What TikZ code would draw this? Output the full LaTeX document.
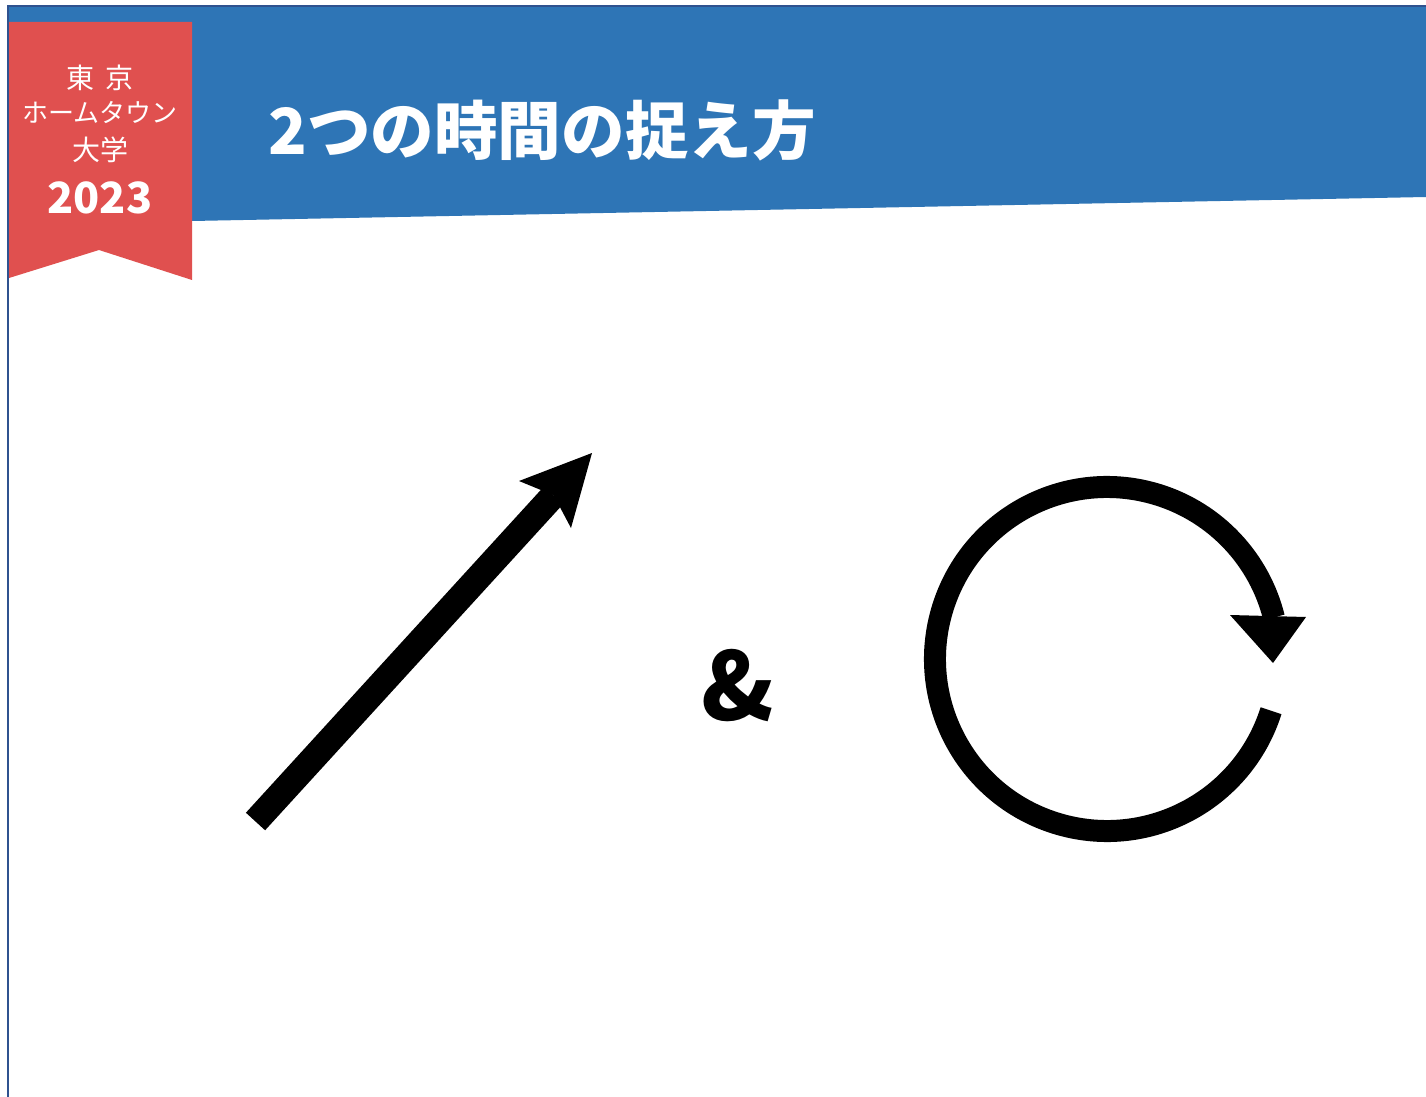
\documentclass[tikz,border=0pt]{standalone}
\usepackage{fontspec}
\newfontfamily\cjk{Noto Sans CJK JP}
\usetikzlibrary{calc}
\definecolor{hdrblue}{HTML}{2E75B6}
\definecolor{frameblue}{HTML}{2F528F}
\definecolor{ribred}{HTML}{E0504F}
\tikzset{
  ribtext/.style={text=white, inner sep=0pt, font=\cjk\fontsize{14pt}{15pt}\selectfont},
  shaft/.style={line width=13pt, black},
  headfill/.style={fill=black, draw=none}
}
\begin{document}
\begin{tikzpicture}[x=0.5pt,y=-0.5pt]
\useasboundingbox (0,0) rectangle (1426,1097);
\fill[white] (0,0) rectangle (1426,1097);
% header band
\fill[hdrblue] (9,7) -- (1426,7) -- (1426,197) -- (192,221) -- (9,221) -- cycle;
% frame
\draw[frameblue, line width=1.1pt] (8,1097) -- (8,6) -- (1426,6);
% ribbon
\fill[ribred] (9,22) -- (192,22) -- (192,280) -- (99,250) -- (9,278) -- cycle;
\node[ribtext] (r1) at (100,78) {東\hspace{0.4em}京};
\node[ribtext, font=\cjk\fontsize{13pt}{14pt}\selectfont] (r2) at (100,112) {ホームタウン};
\node[ribtext] (r3) at (100,150) {大学};
\node[text=white, inner sep=0pt, font=\cjk\bfseries\fontsize{21.5pt}{24pt}\selectfont] (r4) at (100,198) {2023};
% title
\node[text=white, inner sep=0pt, anchor=west, font=\cjk\bfseries\fontsize{31.8pt}{34pt}\selectfont] (title) at (268,130) {2つの時間の捉え方};
% straight arrow
\coordinate (tail) at (255.5,821.5);
\coordinate (tip) at (592,453);
\coordinate (notch) at (553.6,495.2);
\coordinate (wl) at (519,481);
\coordinate (wr) at (571,528);
\draw[shaft] (tail) -- (notch);
\fill[headfill] (tip) -- (wl) -- (notch) -- (wr) -- cycle;
% ampersand
\node[inner sep=0pt, font=\cjk\bfseries\fontsize{47pt}{50pt}\selectfont] (amp) at (738,686) {\&};
% circular arrow
\coordinate (cc) at (1107,659);
\draw[line width=11pt, black] (cc) ++(-17.5:86pt) arc[start angle=-17.5, end angle=-346, radius=86pt] coordinate (arcend);
\coordinate (ctip) at (1273,663);
\coordinate (cwl) at (1230,615);
\coordinate (cwr) at (1306,617);
\fill[headfill] (ctip) -- (cwl) -- (cwr) -- cycle;
\end{tikzpicture}
\end{document}
